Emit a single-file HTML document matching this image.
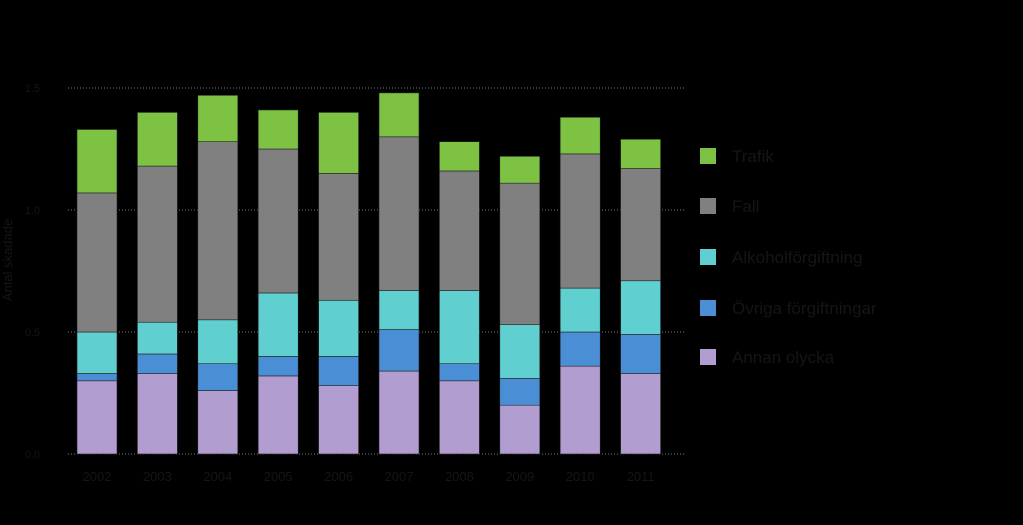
<!DOCTYPE html>
<html><head><meta charset="utf-8"><style>
html,body{margin:0;padding:0;background:#000;width:1023px;height:525px;overflow:hidden}
svg text{font-family:"Liberation Sans",sans-serif}
</style></head><body>
<svg id="chart" width="1023" height="525" xmlns="http://www.w3.org/2000/svg">
<rect width="1023" height="525" fill="#000"/>
<g id="grid"></g><g id="bars"></g><g id="xlabels"></g><g id="legend"></g>
<text transform="translate(12,260) rotate(-90)" text-anchor="middle" font-size="13" fill="#151515">Antal skadade</text>
</svg>
<script>
const years=["2002","2003","2004","2005","2006","2007","2008","2009","2010","2011"];
const annan=[0.30,0.33,0.26,0.32,0.28,0.34,0.30,0.20,0.36,0.33];
const ovriga=[0.03,0.08,0.11,0.08,0.12,0.17,0.07,0.11,0.14,0.16];
const alkohol=[0.17,0.13,0.18,0.26,0.23,0.16,0.30,0.22,0.18,0.22];
const fall=[0.57,0.64,0.73,0.59,0.52,0.63,0.49,0.58,0.55,0.46];
const trafik=[0.26,0.22,0.19,0.16,0.25,0.18,0.12,0.11,0.15,0.12];
const ticks=["0.0","0.5","1.0","1.5"];
const tickVals=[0,0.5,1.0,1.5];
const seriesNames=["Trafik","Fall","Alkoholförgiftning","Övriga förgiftningar","Annan olycka"];
const NS="http://www.w3.org/2000/svg";
const y=v=>454-v*244;
const x=i=>77+i*60.4;
const bw=40;
const colors={annan:"#b19dd0",ovriga:"#4a8fd6",alkohol:"#5fcfcf",fall:"#808080",trafik:"#7dc242"};
function mk(t,a,p){const e=document.createElementNS(NS,t);for(const k in a)e.setAttribute(k,a[k]);p.appendChild(e);return e;}
const grid=document.getElementById('grid');
tickVals.forEach((v,i)=>{
 const l=mk('line',{x1:68,x2:685,y1:y(v),y2:y(v),stroke:"#777","stroke-dasharray":"1,2","stroke-width":1},grid);
 
 
 const t=mk('text',{x:40,y:y(v)+4,"text-anchor":"end","font-size":11,fill:"#151515"},grid);
 t.textContent=ticks[i];
 
 
});
const bars=document.getElementById('bars');
const order=[["annan",annan],["ovriga",ovriga],["alkohol",alkohol],["fall",fall],["trafik",trafik]];
years.forEach((yr,i)=>{
 let base=0;
 order.forEach(([k,arr])=>{
  const top=base+arr[i];
  const r=mk('rect',{x:x(i),y:y(top),width:bw,height:y(base)-y(top),fill:colors[k],stroke:"#222","stroke-width":0.6},bars);
  
  
  base=top;
 });
 const t=mk('text',{x:x(i)+bw/2,y:481,"text-anchor":"middle","font-size":13,fill:"#151515"},document.getElementById('xlabels'));
 t.textContent=yr;
 
 
});
const lg=document.getElementById('legend');
const lc=[colors.trafik,colors.fall,colors.alkohol,colors.ovriga,colors.annan];
const ly=[148,198,249,300,349];
seriesNames.forEach((n,i)=>{
 const g=mk('g',{},lg);
 
 
 mk('rect',{x:700,y:ly[i],width:16,height:16,fill:lc[i]},g);
 const t=mk('text',{x:732,y:ly[i]+14,"font-size":17,fill:"#151515"},g);
 t.textContent=n;
});
</script>
</body></html>
